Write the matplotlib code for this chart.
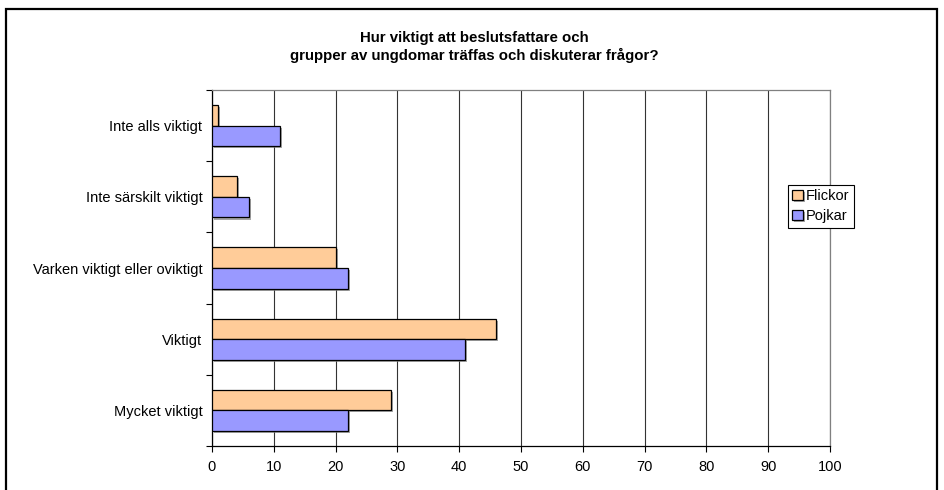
import numpy as np
import matplotlib
matplotlib.use("Agg")
import matplotlib.pyplot as plt
import matplotlib.patheffects as pe
from matplotlib.patches import Rectangle

plt.rcParams['font.family'] = ['Liberation Sans', 'DejaVu Sans']

categories = ['Inte alls viktigt', 'Inte särskilt viktigt',
              'Varken viktigt eller oviktigt', 'Viktigt', 'Mycket viktigt']
flickor = [1, 4, 20, 46, 29]
pojkar = [11, 6, 22, 41, 22]
xticks = list(range(0, 101, 10))

fs = 10.5

fig = plt.figure(figsize=(9.44, 4.9), dpi=100)
ax = fig.add_axes([212/944, 1 - 446/490, 618/944, 356/490])

y = np.arange(len(categories))
h = 0.29
shadow = [pe.SimplePatchShadow(offset=(1.5, -1.5), shadow_rgbFace='#808080', alpha=0.7), pe.Normal()]
ax.barh(y - h/2, flickor, height=h, color='#FFCC99', edgecolor='black', linewidth=0.9,
        label='Flickor', path_effects=shadow, zorder=3)
ax.barh(y + h/2, pojkar, height=h, color='#9999FF', edgecolor='black', linewidth=0.9,
        label='Pojkar', path_effects=shadow, zorder=3)

ax.set_ylim(len(categories) - 0.5, -0.5)
ax.set_xlim(0, 100)
ax.set_yticks(y)
ax.set_yticklabels(categories, fontsize=fs)
ax.set_yticks(np.arange(-0.5, len(categories), 1), minor=True)
ax.tick_params(axis='y', which='major', length=0, pad=7)
ax.tick_params(axis='y', which='minor', length=4, width=0.8, direction='out')
ax.set_xticks(xticks)
ax.tick_params(axis='x', length=4, width=0.8, labelsize=fs, pad=6)

ax.grid(axis='x', color='#333333', linewidth=0.8, zorder=0)
ax.spines['top'].set_color('#808080')
ax.spines['right'].set_color('#808080')
ax.spines['left'].set_color('black')
ax.spines['bottom'].set_color('black')
for s in ax.spines.values():
    s.set_linewidth(0.9)

fig.text(474/944, 1 - 47/490, 'Hur viktigt att beslutsfattare och\ngrupper av ungdomar träffas och diskuterar frågor?',
         ha='center', va='center', fontsize=10.8, fontweight='bold', linespacing=1.3)

leg = fig.legend(loc='upper left', bbox_to_anchor=(788/944, 1 - 185/490), fontsize=fs,
                 frameon=True, fancybox=False, edgecolor='black', framealpha=1,
                 handlelength=0.7, handleheight=0.7, handletextpad=0.25,
                 borderpad=0.3, labelspacing=0.4, borderaxespad=0)
leg.get_frame().set_linewidth(0.8)

fig.patches.append(Rectangle((6/944, -0.1), 931/944, 1.1 - 9/490, transform=fig.transFigure,
                             fill=False, edgecolor='black', linewidth=1.6))

fig.savefig('out.png', dpi=100)
